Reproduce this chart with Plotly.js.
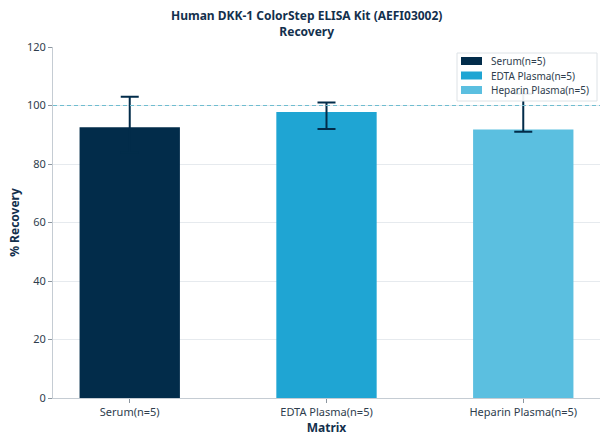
<!DOCTYPE html>
<html><head><meta charset="utf-8">
<script src="https://cdn.plot.ly/plotly-3.0.1.min.js"></script>
<style>html,body{margin:0;padding:0;background:#fff}#chart{width:608px;height:444px}</style>
</head><body><div id="chart"></div>
<script>
var categories = ["Serum(n=5)", "EDTA Plasma(n=5)", "Heparin Plasma(n=5)"];
var recovery = [92.6, 97.8, 91.8];
var upperBound = [103, 101, 104];
var lowerBound = [84, 92, 91];
var colors = ["#022c4a", "#1fa5d3", "#5bbfe0"];
var yTicks = [0, 20, 40, 60, 80, 100, 120];
var titleLines = ["Human DKK-1 ColorStep ELISA Kit (AEFI03002)", "Recovery"];

var errColor = "#022c4a";
var traces = categories.map(function(c, i) {
  return {
    type: "bar",
    name: c,
    x: [c],
    y: [recovery[i]],
    width: 0.51,
    marker: {color: colors[i]},
    showlegend: false,
    error_y: {
      type: "data", symmetric: false,
      array: [upperBound[i] - recovery[i]],
      arrayminus: [recovery[i] - lowerBound[i]],
      color: errColor, thickness: 2, width: 9
    }
  };
});

// pixel helpers for the plot area (l=53, r=8, t=47, b=46)
var PL = 53, PW = 547, PB = 398, PH = 351;
function px(x) { return (x - PL) / PW; }
function py(y) { return (PB - y) / PH; }

var font = "'Noto Sans', 'Open Sans', sans-serif";
var shapes = [{
  type: "line", xref: "paper", x0: 0, x1: 1, yref: "y", y0: 100, y1: 100,
  line: {color: "#6fbdd0", width: 1, dash: "4px,3px"}, layer: "above"
}];
var annotations = [{
  xref: "paper", yref: "paper", x: px(306), y: py(23), xanchor: "center", yanchor: "middle",
  text: "<b>" + titleLines.join("<br>") + "</b>", showarrow: false,
  font: {family: font, size: 12, color: "#13304d"}
}];
// legend box
shapes.push({
  type: "rect", xref: "paper", yref: "paper",
  x0: px(457), x1: px(597), y0: py(101), y1: py(53),
  fillcolor: "rgba(255,255,255,0.92)", line: {color: "#dde2e6", width: 1}, layer: "above"
});
var entryY = [61, 75.5, 90];
categories.forEach(function(c, i) {
  shapes.push({
    type: "rect", xref: "paper", yref: "paper",
    x0: px(461), x1: px(482), y0: py(entryY[i] + 4), y1: py(entryY[i] - 4),
    fillcolor: colors[i], line: {width: 0}, layer: "above"
  });
  annotations.push({
    xref: "paper", yref: "paper", x: px(489), y: py(entryY[i]),
    xanchor: "left", yanchor: "middle", text: c, showarrow: false,
    font: {family: font, size: 10, color: "#2e3d4d"}
  });
});

var layout = {
  width: 608, height: 444,
  margin: {l: 53, r: 8, t: 47, b: 46},
  paper_bgcolor: "#fff", plot_bgcolor: "#fff",
  barmode: "overlay",
  font: {family: font, size: 11, color: "#2e3d4d"},
  xaxis: {
    type: "category", range: [-0.39, 2.39],
    showline: true, linecolor: "#c5ccd3", linewidth: 1,
    ticks: "outside", ticklen: 4, tickcolor: "#8c969f",
    showgrid: false, zeroline: false,
    tickfont: {size: 11, color: "#2e3d4d"},
    title: {text: "<b>Matrix</b>", font: {size: 12, color: "#13304d"}, standoff: 4}
  },
  yaxis: {
    range: [0, 120], tickvals: yTicks,
    showline: true, linecolor: "#c5ccd3", linewidth: 1,
    ticks: "outside", ticklen: 4, tickcolor: "#8c969f",
    showgrid: true, gridcolor: "#e6eaee", gridwidth: 1, zeroline: false,
    tickfont: {size: 11, color: "#2e3d4d"},
    title: {text: "<b>% Recovery</b>", font: {size: 12, color: "#13304d"}, standoff: 4}
  },
  shapes: shapes,
  annotations: annotations,
  showlegend: false
};
Plotly.newPlot("chart", traces, layout, {displayModeBar: false, staticPlot: true});
</script></body></html>
